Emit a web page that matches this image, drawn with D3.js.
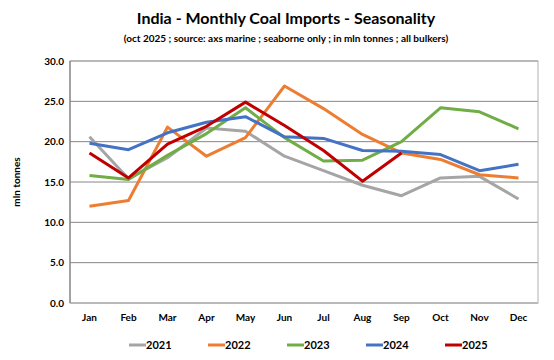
<!DOCTYPE html>
<html>
<head>
<meta charset="utf-8">
<script src="https://cdn.jsdelivr.net/npm/d3@7"></script>
<style>
  body { margin: 0; background: #fff; }
  text { font-family: Lato, "Open Sans", sans-serif; font-weight: bold; fill: #000; }
</style>
</head>
<body>
<div id="chart"></div>
<script>
var months = ["Jan","Feb","Mar","Apr","May","Jun","Jul","Aug","Sep","Oct","Nov","Dec"];
var years = ["2021","2022","2023","2024","2025"];
var colors = ["#a5a5a5","#ed7d31","#70ad47","#4472c4","#c00000"];
var yTicks = [0,5,10,15,20,25,30];

var s2021 = [20.6,15.4,18.0,21.7,21.3,18.2,16.4,14.6,13.3,15.5,15.7,12.9];
var s2022 = [12.0,12.7,21.8,18.2,20.5,26.9,24.1,20.9,18.6,17.8,15.9,15.5];
var s2023 = [15.8,15.3,18.3,21.0,24.2,20.5,17.6,17.7,20.0,24.2,23.7,21.6];
var s2024 = [19.8,19.0,21.1,22.4,23.1,20.6,20.4,18.9,18.8,18.4,16.4,17.2];
var s2025 = [18.6,15.5,19.7,21.9,24.9,22.0,18.9,15.1,18.6];
var series = [s2021, s2022, s2023, s2024, s2025];

var W = 554, H = 360;
var m = {left: 70, right: 16, top: 61, bottom: 57};

var svg = d3.select("#chart").append("svg")
    .attr("width", W).attr("height", H);

var x = d3.scaleBand().domain(months).range([m.left, W - m.right]);
var y = d3.scaleLinear().domain([0, 30]).range([H - m.bottom, m.top]);

// grid
svg.append("g").selectAll("line")
    .data(yTicks)
    .enter().append("line")
    .attr("x1", m.left).attr("x2", W - m.right)
    .attr("y1", function(d) { return y(d) }).attr("y2", function(d) { return y(d) })
    .attr("stroke", "#868686").attr("stroke-width", 1);

// plot border
svg.append("rect")
    .attr("x", m.left).attr("y", m.top)
    .attr("width", W - m.right - m.left).attr("height", H - m.bottom - m.top)
    .attr("fill", "none").attr("stroke", "#b0b0b0");

svg.append("line")
    .attr("x1", m.left).attr("x2", m.left)
    .attr("y1", m.top).attr("y2", H - m.bottom)
    .attr("stroke", "#6e6e6e");

// y axis labels
svg.append("g").selectAll("text")
    .data(yTicks)
    .enter().append("text")
    .attr("x", m.left - 6)
    .attr("y", function(d) { return y(d) + 3.5 })
    .attr("text-anchor", "end")
    .style("font-size", "10px")
    .text(function(d) { return d.toFixed(1) });

// x labels
svg.append("g").selectAll("text")
    .data(months)
    .enter().append("text")
    .attr("x", function(d) { return x(d) + x.bandwidth() / 2 })
    .attr("y", H - m.bottom + 18)
    .attr("text-anchor", "middle")
    .style("font-size", "10px")
    .text(function(d) { return d });

// lines
var line = d3.line()
    .x(function(d, i) { return x(months[i]) + x.bandwidth() / 2 })
    .y(function(d) { return y(d) });

svg.append("g").selectAll("path")
    .data(series)
    .enter().append("path")
    .attr("d", function(d) { return line(d) })
    .attr("fill", "none")
    .attr("stroke", function(d, i) { return colors[i] })
    .attr("stroke-width", 3)
    .attr("stroke-linejoin", "round");

// titles
svg.append("text")
    .attr("x", 286).attr("y", 24)
    .attr("text-anchor", "middle")
    .style("font-size", "16px")
    .text("India - Monthly Coal Imports - Seasonality");

svg.append("text")
    .attr("x", 286).attr("y", 42)
    .attr("text-anchor", "middle")
    .style("font-size", "10px")
    .text("(oct 2025 ; source: axs marine ; seaborne only ; in mln tonnes ; all bulkers)");

svg.append("text")
    .attr("transform", "translate(20," + ((m.top + H - m.bottom) / 2) + ") rotate(-90)")
    .attr("text-anchor", "middle")
    .style("font-size", "10px")
    .text("mln tonnes");

// legend
var leg = svg.append("g").selectAll("g")
    .data(years)
    .enter().append("g")
    .attr("transform", function(d, i) { return "translate(" + (129 + i * 79) + "," + 345 + ")" });

leg.append("line")
    .attr("x1", 0).attr("x2", 17)
    .attr("stroke", function(d, i) { return colors[i] })
    .attr("stroke-width", 3);

leg.append("text")
    .attr("x", 17).attr("y", 4)
    .style("font-size", "11px")
    .text(function(d) { return d });
</script>
</body>
</html>
